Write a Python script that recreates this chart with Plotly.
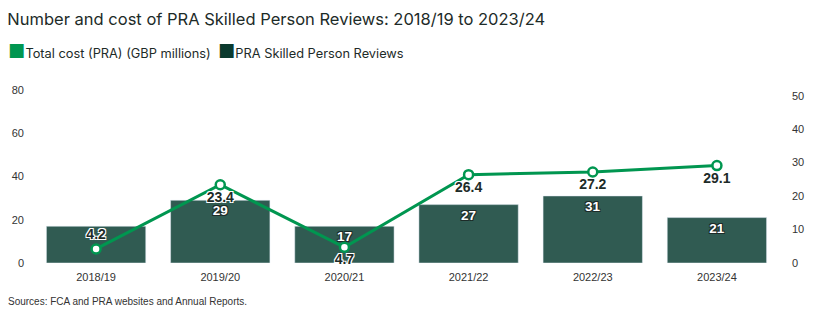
import plotly.graph_objects as go

years = ["2018/19", "2019/20", "2020/21", "2021/22", "2022/23", "2023/24"]
reviews = [17, 29, 17, 27, 31, 21]
# the reference hides the first bar's label (covered by the 4.2 line label)
show_bar_label = [False, True, True, True, True, True]
cost = [4.2, 23.4, 4.7, 26.4, 27.2, 29.1]
cost_label_pos = ["top center", "bottom center", "bottom center", "bottom center", "bottom center", "bottom center"]
series_names = ["Total cost (PRA) (GBP millions)", "PRA Skilled Person Reviews"]

BAR = "#305b52"
BAR_LEG = "#0b3a2e"
LINE = "#009650"
TXT = "#1d2b28"

halo_white = "1px 1px 0 #fff, -1px -1px 0 #fff, 1px -1px 0 #fff, -1px 1px 0 #fff"
halo_dark = "1px 1px 0 #1d2b28, -1px -1px 0 #1d2b28, 1px -1px 0 #1d2b28, -1px 1px 0 #1d2b28"

fig = go.Figure()
fig.add_trace(go.Bar(
    x=years, y=reviews, marker_color=BAR, width=0.8, yaxis="y", name=series_names[1],
    text=[str(v) if s else "" for v, s in zip(reviews, show_bar_label)],
    textposition="inside", insidetextanchor="end",
    textfont=dict(family="Liberation Sans", size=13.5, color="white", weight="bold", shadow=halo_dark),
    showlegend=False, cliponaxis=False,
))
fig.add_trace(go.Scatter(
    x=years, y=cost, yaxis="y2", mode="lines+markers+text", name=series_names[0],
    line=dict(color=LINE, width=3),
    marker=dict(symbol="circle", size=9, color="white", line=dict(color=LINE, width=2.5)),
    text=[f"{v}" for v in cost], textposition=cost_label_pos,
    textfont=dict(family="Liberation Sans", size=14, color=TXT, weight="bold", shadow=halo_white),
    showlegend=False, cliponaxis=False,
))

legend_html = (
    f"<span style='color:{LINE};font-size:19px'>■</span>{series_names[0]}"
    f"  <span style='color:{BAR_LEG};font-size:19px'>■</span>{series_names[1]}"
)

fig.update_layout(
    width=816, height=316,
    margin=dict(l=34, r=31, t=90, b=53),
    paper_bgcolor="white", plot_bgcolor="white",
    font=dict(family="Liberation Sans", color="#333333", size=11),
    title=dict(text="Number and cost of PRA Skilled Person Reviews: 2018/19 to 2023/24",
               x=0.009, xanchor="left", y=0.94, yanchor="middle",
               font=dict(family="Inter", size=16.5, color=TXT)),
    showlegend=False,
    xaxis=dict(showgrid=False, showline=False, ticks="", tickfont=dict(size=11, color="#333"),
               ticklabelstandoff=6),
    yaxis=dict(range=[0, 80], dtick=20, showgrid=False, zeroline=False, ticks="",
               tickfont=dict(size=11, color="#333"), ticklabelstandoff=9),
    yaxis2=dict(range=[0, 51.7], tickvals=[0, 10, 20, 30, 40, 50], overlaying="y", side="right",
                showgrid=False, zeroline=False, ticks="", tickfont=dict(size=11, color="#333"),
                ticklabelstandoff=12),
    annotations=[
        dict(text=legend_html, xref="paper", yref="paper", x=-0.038, y=1.222,
             xanchor="left", yanchor="middle", showarrow=False,
             font=dict(family="Inter", size=12.8, color=TXT)),
        dict(text="Sources: FCA and PRA websites and Annual Reports.", xref="paper", yref="paper",
             x=-0.037, y=-0.22, xanchor="left", yanchor="middle", showarrow=False,
             font=dict(family="Liberation Sans", size=10, color="#333")),
    ],
)

fig.write_html("out.html")
